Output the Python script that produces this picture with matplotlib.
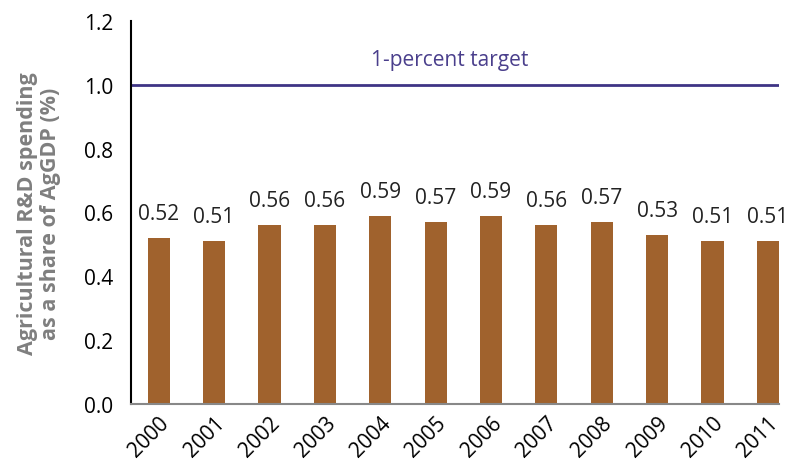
import matplotlib
matplotlib.use("Agg")
import matplotlib.pyplot as plt

years = ["2000", "2001", "2002", "2003", "2004", "2005", "2006", "2007", "2008", "2009", "2010", "2011"]
values = [0.52, 0.51, 0.56, 0.56, 0.59, 0.57, 0.59, 0.56, 0.57, 0.53, 0.51, 0.51]
target = 1.0
target_label = "1-percent target"
yticks = [0.0, 0.2, 0.4, 0.6, 0.8, 1.0, 1.2]

plt.rcParams['font.family'] = ['Open Sans', 'DejaVu Sans']

fig = plt.figure(figsize=(7.91, 4.64), dpi=100)
ax = fig.add_axes([131/791, 1-405/464, (779-131)/791, (405-22)/464])

x = list(range(len(years)))
bars = ax.bar(x, values, width=0.4, color="#A0622D")
for xi, v in zip(x, values):
    ax.annotate(f"{v:.2f}", (xi, v), xytext=(0, 10), textcoords="offset points",
                ha="center", va="bottom", fontsize=15, color="#222222")

ax.axhline(target, color="#3F3485", lw=2)
ax.text(5.25, target + 0.045, target_label, ha="center", va="bottom", fontsize=15, color="#4A3F8C")

ax.set_ylim(0, 1.2)
ax.set_xlim(-0.5, 11.2)
ax.set_yticks(yticks)
ax.set_yticklabels([f"{t:.1f}" for t in yticks], fontsize=15)
ax.set_xticks(x)
ax.set_xticklabels(years, rotation=45, ha="right", rotation_mode="anchor", fontsize=15)
ax.tick_params(axis="y", length=0, pad=13)
ax.tick_params(axis="x", length=0, pad=6)

for s in ["top", "right"]:
    ax.spines[s].set_visible(False)
ax.spines["left"].set_color("black")
ax.spines["left"].set_linewidth(1.5)
ax.spines["bottom"].set_color("#888888")
ax.spines["bottom"].set_linewidth(1.5)

ax.set_ylabel("Agricultural R&D spending\nas a share of AgGDP (%)", fontsize=15.5,
              fontweight="bold", color="#7F7F7F", linespacing=1.15, labelpad=16)

fig.savefig("out.png", dpi=100)
